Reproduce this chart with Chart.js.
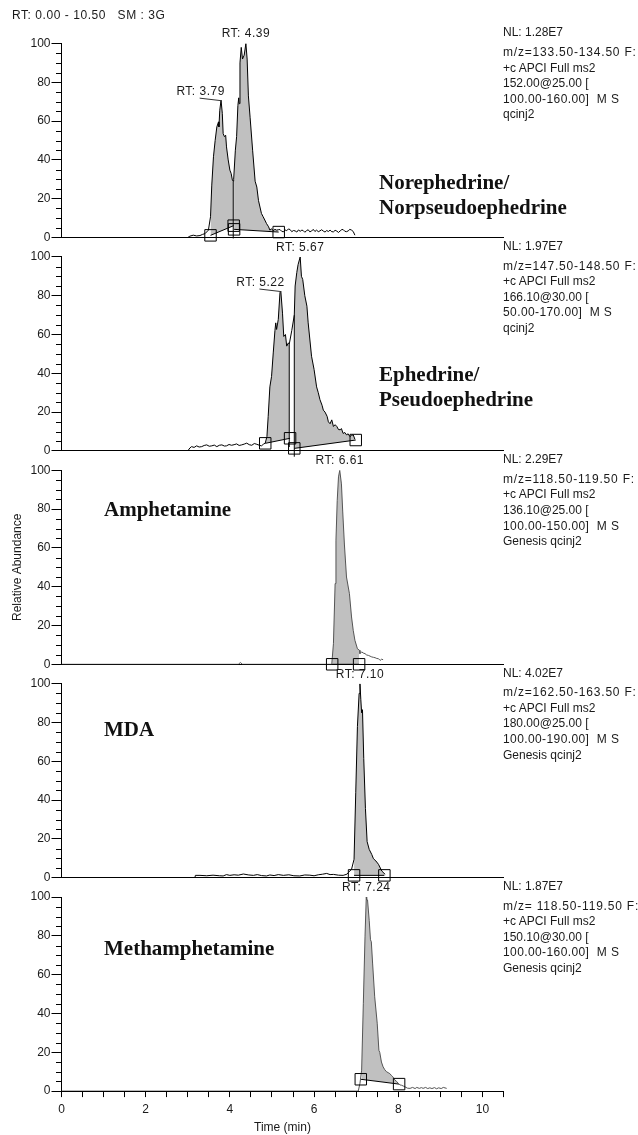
<!DOCTYPE html>
<html><head><meta charset="utf-8">
<script src="https://cdn.jsdelivr.net/npm/chart.js@4.4.1/dist/chart.umd.min.js"></script>
<style>
html,body{margin:0;padding:0;background:#fff;}
#wrap{position:relative;width:638px;height:1135px;overflow:hidden;background:#fff;}
#wrap canvas{position:absolute;left:0;top:0;pointer-events:none;}
.t{position:absolute;font-family:"Liberation Sans",Arial,sans-serif;font-size:12px;line-height:15.6px;color:#1a1a1a;white-space:pre;}
.c{position:absolute;font-family:"Liberation Serif","Times New Roman",serif;font-weight:bold;font-size:21px;line-height:25px;color:#111;white-space:pre;}
</style></head><body><div id="wrap"></div>
<script>
// ---------------- data (time in min, relative abundance in %) ----------------
const xTickLabels = ['0','2','4','6','8','10'];
const yTickLabels = ['0','20','40','60','80','100'];

const norTrace = [[0,0],[3.00,0],[3.05,0.7],[3.13,1.2],[3.21,0.8],[3.29,1.0],[3.35,1.6],[3.41,2.0],[3.49,3.8],[3.54,10.7],[3.57,27],[3.61,41.6],[3.65,50],[3.69,57],[3.73,59.6],[3.74,57],[3.76,65.6],[3.79,70.8],[3.82,64],[3.84,53.6],[3.87,52],[3.90,52.7],[3.92,46.7],[3.96,40],[4.00,34.7],[4.03,33],[4.06,29.5],[4.08,29],[4.09,30],[4.13,45],[4.16,52],[4.19,68],[4.21,72],[4.22,69],[4.24,90],[4.27,98],[4.30,92],[4.34,94],[4.38,100],[4.41,92],[4.44,73],[4.48,62],[4.54,45],[4.60,29],[4.64,26],[4.68,19],[4.75,12.4],[4.79,10.7],[4.83,9],[4.87,7.2],[4.92,5.5],[4.95,3.8],[4.99,4.5],[5.03,3.5],[5.07,4.2],[5.11,3.8],[5.15,4.0],[5.19,4.1],[5.23,3.2],[5.27,2.9],[5.31,3.9],[5.35,3.5],[5.39,4.4],[5.43,4.1],[5.47,3.0],[5.51,3.6],[5.55,3.4],[5.59,2.8],[5.63,3.9],[5.67,3.2],[5.71,3.8],[5.74,3.6],[5.78,2.7],[5.82,3.5],[5.86,4.0],[5.90,2.9],[5.94,3.3],[5.98,4.2],[6.02,3.1],[6.06,3.8],[6.10,3.0],[6.14,3.4],[6.18,4.0],[6.22,3.3],[6.26,2.8],[6.30,3.6],[6.34,3.1],[6.38,3.8],[6.42,3.0],[6.46,2.9],[6.50,3.7],[6.54,3.3],[6.58,2.6],[6.62,3.4],[6.66,4.1],[6.69,4.1],[6.73,3.2],[6.77,3.0],[6.81,3.4],[6.85,4.2],[6.89,3.8],[6.93,3.1],[6.97,1.2]];
const norPeaks = [[3.54,4.08],[4.09,5.15]];
const norBases = [[[3.54,1.1],[4.09,6.1]],[[4.10,4.2],[5.16,2.8]]];
const norDrops = [[4.08,-0.5,29]];
const norRT = [[4.38,'RT: 4.39',0],[3.79,'RT: 3.79',1]];

const ephTrace = [[0,0],[3.00,0],[3.05,1.5],[3.09,2.2],[3.15,1.8],[3.21,2.6],[3.27,2.0],[3.33,2.2],[3.39,2.8],[3.45,3.1],[3.51,2.4],[3.57,2.6],[3.63,3.0],[3.69,2.2],[3.75,2.9],[3.81,3.1],[3.87,2.5],[3.92,2.6],[3.98,3.3],[4.04,2.9],[4.10,3.2],[4.16,3.6],[4.22,2.8],[4.28,3.1],[4.34,3.5],[4.40,4.0],[4.46,3.2],[4.52,2.9],[4.58,3.8],[4.64,3.4],[4.70,2.9],[4.75,2.6],[4.80,3.5],[4.84,4.0],[4.88,7.4],[4.91,17.8],[4.95,33],[4.99,38.4],[5.03,50.5],[5.07,62],[5.09,66],[5.11,62.6],[5.15,67.8],[5.19,81.6],[5.21,82.4],[5.25,71],[5.28,59],[5.32,60],[5.35,54],[5.39,55.7],[5.41,55],[5.47,62],[5.53,70],[5.55,85],[5.59,92],[5.62,96],[5.67,100],[5.70,90],[5.73,88.4],[5.78,80],[5.83,74.6],[5.86,66],[5.94,48.8],[6.00,42],[6.06,33],[6.10,30],[6.14,26.4],[6.19,23.5],[6.22,21],[6.26,20],[6.31,17.8],[6.34,15],[6.38,14],[6.42,16],[6.46,12.6],[6.50,13.5],[6.54,12.6],[6.58,11],[6.62,10.9],[6.65,11.5],[6.69,9],[6.73,9.5],[6.77,8.3],[6.81,8.8],[6.85,7.4],[6.89,8.0],[6.93,8.3],[6.97,6]];
const ephPeaks = [[4.84,5.41],[5.53,6.97]];
const ephBases = [[[4.84,3.9],[5.43,6.5]],[[5.53,1.3],[6.99,5.6]]];
const ephDrops = [[5.41,2,55],[5.53,-3,70]];
const ephRT = [[5.67,'RT: 5.67',0],[5.21,'RT: 5.22',1]];

const ampTrace = [[0,0],[4.20,0],[4.25,0.9],[4.30,0],[6.42,0],[6.46,10.6],[6.50,41.6],[6.52,64],[6.55,84.5],[6.58,96.6],[6.61,100],[6.65,93],[6.68,79],[6.72,62],[6.77,45],[6.84,36.4],[6.89,24.4],[6.93,17.5],[6.97,12.4],[7.03,8],[7.08,7.2],[7.09,5.5],[7.13,6.4],[7.17,5.8],[7.21,5.5],[7.25,4.8],[7.29,4.6],[7.33,4.2],[7.37,3.8],[7.41,3.6],[7.45,3.4],[7.49,3.0],[7.53,2.9],[7.57,2.0],[7.60,2.6],[7.64,2.4]];
const ampPeaks = [[6.42,7.08]];
const ampBases = [[[6.43,0],[7.07,0]]];
const ampDrops = [];
const ampRT = [[6.61,'RT: 6.61',0]];

const mdaTrace = [[0,0],[3.17,0],[3.18,1.2],[3.29,1.2],[3.45,1.0],[3.60,1.3],[3.75,1.0],[3.84,0.9],[3.92,1.6],[4.00,1.2],[4.10,1.5],[4.20,1.3],[4.32,1.9],[4.45,1.4],[4.56,1.2],[4.65,1.6],[4.75,1.1],[4.87,0.9],[4.95,1.4],[5.05,1.1],[5.15,1.6],[5.27,1.2],[5.40,1.5],[5.52,1.0],[5.66,0.9],[5.78,1.4],[5.90,1.3],[6.00,1.0],[6.10,1.5],[6.20,1.8],[6.30,2.2],[6.38,1.6],[6.46,1.7],[6.58,1.3],[6.69,1.2],[6.78,1.8],[6.81,2.6],[6.89,4.3],[6.95,9.5],[6.99,43.8],[7.03,78],[7.07,95],[7.09,100],[7.11,92],[7.13,85],[7.15,86.6],[7.18,61.5],[7.22,35.7],[7.26,18.6],[7.31,14.6],[7.37,12],[7.41,9.8],[7.47,8.6],[7.53,6.9],[7.61,3.4],[7.69,1.7]];
const mdaPeaks = [[6.95,7.69]];
const mdaBases = [[[6.95,1.2],[7.67,1.2]]];
const mdaDrops = [];
const mdaRT = [[7.09,'RT: 7.10',0]];

const methTrace = [[0,0],[7.05,0],[7.09,4],[7.13,10.8],[7.17,45],[7.21,79.5],[7.24,100],[7.25,98.5],[7.27,98.5],[7.31,88],[7.34,78],[7.36,77],[7.39,66],[7.44,48.6],[7.50,35],[7.54,21],[7.56,20],[7.60,15],[7.64,12.5],[7.68,11],[7.72,10],[7.76,9.5],[7.80,9],[7.84,8],[7.87,7.4],[7.92,5.7],[7.96,5],[8.00,4],[8.04,3.2],[8.08,3],[8.12,2.6],[8.16,2.2],[8.22,1.5],[8.28,1.4],[8.34,1.9],[8.40,1.3],[8.44,1.9],[8.50,1.4],[8.55,1.8],[8.59,1.4],[8.65,1.9],[8.70,1.3],[8.75,1.7],[8.80,1.3],[8.86,1.8],[8.91,1.2],[8.96,1.7],[9.02,1.3],[9.07,1.9],[9.15,1.4]];
const methPeaks = [[7.13,8.00]];
const methBases = [[[7.11,6.1],[8.02,3.6]]];
const methDrops = [];
const methRT = [[7.24,'RT: 7.24',0]];

const nlValues = ['NL: 1.28E7','NL: 1.97E7','NL: 2.29E7','NL: 4.02E7','NL: 1.87E7'];
const filterLines = [
  ['m/z=133.50-134.50 F:','+c APCI Full ms2','152.00@25.00 [','100.00-160.00]  M S','qcinj2'],
  ['m/z=147.50-148.50 F:','+c APCI Full ms2','166.10@30.00 [','50.00-170.00]  M S','qcinj2'],
  ['m/z=118.50-119.50 F:','+c APCI Full ms2','136.10@25.00 [','100.00-150.00]  M S','Genesis qcinj2'],
  ['m/z=162.50-163.50 F:','+c APCI Full ms2','180.00@25.00 [','100.00-190.00]  M S','Genesis qcinj2'],
  ['m/z= 118.50-119.50 F:','+c APCI Full ms2','150.10@30.00 [','100.00-160.00]  M S','Genesis qcinj2']
];
const compoundNames = [['Norephedrine/','Norpseudoephedrine'],['Ephedrine/','Pseudoephedrine'],['Amphetamine'],['MDA'],['Methamphetamine']];
const headerText = 'RT: 0.00 - 10.50   SM : 3G';

// ---------------- layout ----------------
const W = 638, H = 1135;
const PLOT_LEFT = 61.5, PLOT_RIGHT = 503.5;
const panelTop = i => 43.5 + 213.4 * i;
const PANEL_H = 194;
const SANS = '"Liberation Sans", Arial, sans-serif';
Chart.defaults.font.family = SANS;
Chart.defaults.font.size = 12;
Chart.defaults.color = '#1a1a1a';

const panels = [
  {trace: norTrace, peaks: norPeaks, bases: norBases, drops: norDrops, rt: norRT, color: '#000'},
  {trace: ephTrace, peaks: ephPeaks, bases: ephBases, drops: ephDrops, rt: ephRT, color: '#000'},
  {trace: ampTrace, peaks: ampPeaks, bases: ampBases, drops: ampDrops, rt: ampRT, color: '#555'},
  {trace: mdaTrace, peaks: mdaPeaks, bases: mdaBases, drops: mdaDrops, rt: mdaRT, color: '#000'},
  {trace: methTrace, peaks: methPeaks, bases: methBases, drops: methDrops, rt: methRT, color: '#555'}
];

const annotPlugin = {
  id: 'annot',
  afterDraw(chart, args, opts) {
    const {ctx, chartArea: a, scales: {x, y}} = chart;
    ctx.save();
    ctx.strokeStyle = '#000';
    ctx.lineWidth = 1;
    ctx.beginPath();
    for (let v = 0; v <= 100; v += 5) {
      if (v % 20 === 0) continue;
      const py = Math.round(y.getPixelForValue(v)) + 0.5;
      ctx.moveTo(a.left - 5.5, py);
      ctx.lineTo(a.left, py);
    }
    ctx.stroke();
    ctx.font = '12px ' + SANS;
    ctx.fillStyle = '#1a1a1a';
    try { ctx.letterSpacing = '0.5px'; } catch (e) {}
    ctx.textAlign = 'center';
    ctx.textBaseline = 'middle';
    opts.labels.forEach(l => {
      const px = x.getPixelForValue(l.t), py = y.getPixelForValue(l.v);
      if (l.lead) {
        const tx = px - 20.4, ty = py - 8.5;
        ctx.fillText(l.text, tx, ty);
        ctx.beginPath();
        ctx.strokeStyle = '#333';
        ctx.moveTo(tx - 1, ty + 6.5);
        ctx.lineTo(px, py + 0.5);
        ctx.stroke();
      } else {
        ctx.fillText(l.text, px, py - 9.5);
      }
    });
    ctx.restore();
  }
};

const wrap = document.getElementById('wrap');

panels.forEach((p, i) => {
  const top = panelTop(i);
  const bottom = top + PANEL_H;
  const last = i === panels.length - 1;
  const trace = p.trace.map(q => ({x: q[0], y: q[1]}));
  const ds = [{data: trace, borderColor: p.color, borderWidth: 1, pointRadius: 0, fill: false, order: 1}];
  const boxes = [];
  p.peaks.forEach((pk, k) => {
    const b = p.bases[k];
    const baseIdx = ds.length;
    ds.push({data: b.map(q => ({x: q[0], y: q[1]})), borderColor: '#000', borderWidth: 1, pointRadius: 0, fill: false, order: 2, clip: false});
    ds.push({data: trace.filter(q => q.x >= pk[0] && q.x <= pk[1]), borderWidth: 0, borderColor: 'rgba(0,0,0,0)', backgroundColor: '#c0c0c0', pointRadius: 0, fill: baseIdx, order: 3});
    b.forEach(q => boxes.push({x: q[0], y: q[1]}));
  });
  p.drops.forEach(d => {
    ds.push({data: [{x: d[0], y: d[1]}, {x: d[0], y: d[2]}], borderColor: '#000', borderWidth: 1, pointRadius: 0, fill: false, order: 2, clip: false});
  });
  ds.push({data: boxes, showLine: false, pointStyle: 'rect', pointRadius: 8.1, pointBorderColor: '#000', pointBackgroundColor: 'rgba(0,0,0,0)', pointBorderWidth: 1, fill: false, order: 0, clip: false});

  const labels = p.rt.map(r => {
    let best = p.trace[0];
    p.trace.forEach(q => { if (Math.abs(q[0] - r[0]) < Math.abs(best[0] - r[0])) best = q; });
    return {t: r[0], v: best[1], text: r[1], lead: !!r[2]};
  });

  const cv = document.createElement('canvas');
  cv.width = W; cv.height = H;
  cv.style.width = W + 'px'; cv.style.height = H + 'px';
  wrap.appendChild(cv);

  const xAxisH = last ? (H - bottom) : 0;
  new Chart(cv, {
    type: 'line',
    data: {datasets: ds},
    options: {
      responsive: false, animation: false, events: [], devicePixelRatio: 1,
      layout: {padding: {left: 0, right: W - PLOT_RIGHT, top: top, bottom: last ? 0 : (H - bottom)}},
      plugins: {legend: {display: false}, tooltip: {enabled: false}, filler: {drawTime: 'beforeDatasetsDraw', propagate: false}, annot: {labels: labels}},
      elements: {line: {tension: 0}},
      scales: {
        x: {
          type: 'linear', min: 0, max: 10.5,
          afterFit: s => { s.height = xAxisH; },
          border: {display: true, color: '#000', width: 1},
          grid: {display: last, drawOnChartArea: false, drawTicks: true, tickLength: 6, color: '#000'},
          ticks: {display: last, stepSize: 0.5, autoSkip: false, maxRotation: 0, padding: 5, font: {size: 12},
                  callback: v => xTickLabels.includes(String(v)) ? String(v) : ''},
          title: {display: last, text: 'Time (min)', font: {size: 12}, padding: {top: 0, bottom: 0.5}}
        },
        y: {
          min: 0, max: 100,
          afterFit: s => { s.width = PLOT_LEFT; },
          border: {display: true, color: '#000', width: 1},
          grid: {display: true, drawOnChartArea: false, drawTicks: true, tickLength: 10, color: '#000'},
          ticks: {stepSize: 20, padding: 1, font: {size: 12},
                  callback: v => yTickLabels.includes(String(v)) ? String(v) : ''},
          title: {display: i === 2, text: 'Relative Abundance', font: {size: 12}, padding: {top: 10.3, bottom: 0}}
        }
      }
    },
    plugins: [annotPlugin]
  });

  // right-hand info text
  const nl = document.createElement('div');
  nl.className = 't';
  nl.style.left = '503px';
  nl.style.top = (top - 10.3 - 7.8) + 'px';
  nl.textContent = nlValues[i];
  wrap.appendChild(nl);
  const info = document.createElement('div');
  info.className = 't';
  info.style.left = '503px';
  info.style.top = (top + 9.4 - 7.8) + 'px';
  info.innerHTML = filterLines[i].map((s, k) => '<span style="letter-spacing:' + (k === 0 ? '0.8px' : (k === 3 ? '0.4px' : '0px')) + '">' + s + '</span>').join('\n');
  wrap.appendChild(info);
});

// compound names
const namePos = [[379, 170.4], [379, 362.4], [104, 497.4], [104, 717.4], [104, 936.4]];
compoundNames.forEach((n, i) => {
  const d = document.createElement('div');
  d.className = 'c';
  d.style.left = namePos[i][0] + 'px';
  d.style.top = namePos[i][1] + 'px';
  d.textContent = n.join('\n');
  wrap.appendChild(d);
});

// header
const hd = document.createElement('div');
hd.className = 't';
hd.style.left = '12px';
hd.style.top = '8.2px';
hd.style.letterSpacing = '0.55px';
hd.textContent = headerText;
wrap.appendChild(hd);
</script>
</body></html>
